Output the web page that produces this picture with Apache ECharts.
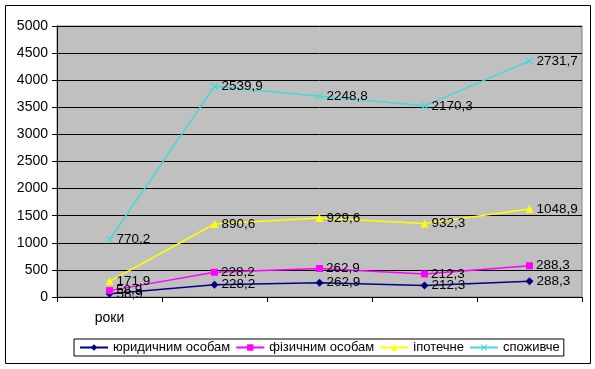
<!DOCTYPE html>
<html><head><meta charset="utf-8">
<script src="https://cdn.jsdelivr.net/npm/echarts@6/dist/echarts.min.js"></script>
<style>html,body{margin:0;padding:0;background:#fff}#c{width:595px;height:369px}</style>
</head><body><div id="c"></div>
<script>
const categories = ["роки", "", "", "", ""];
const legalEntities = [58.9, 228.2, 262.9, 212.3, 288.3];
const individuals = [58.9, 228.2, 262.9, 212.3, 288.3];
const mortgage = [171.9, 890.6, 929.6, 932.3, 1048.9];
const consumer = [770.2, 2539.9, 2248.8, 2170.3, 2731.7];
const seriesNames = ["юридичним особам", "фізичним особам", "іпотечне", "споживче"];
const yTicks = {min: 0, max: 5000, interval: 500};

const chart = echarts.init(document.getElementById('c'));
const font = 'Liberation Sans, Arial, sans-serif';
const xPath = 'path://M0,1L1,0L5,4L9,0L10,1L6,5L10,9L9,10L5,6L1,10L0,9L4,5Z';
function mk(name, data, color, symbol, size) {
  return {
    name, type: 'line', stack: 'total', data,
    symbol, symbolSize: size,
    lineStyle: {color, width: 1.5},
    itemStyle: {color},
    label: {show: true, position: 'right', distance: 3, color: '#000', fontFamily: font, fontSize: 13.5,
      formatter: p => String(p.value).replace('.', ',')},
    z: 3
  };
}
chart.setOption({
  animation: false,
  textStyle: {fontFamily: font},
  graphic: [{type: 'rect', shape: {x: 5.5, y: 5.5, width: 585, height: 358}, style: {fill: 'none', stroke: '#000', lineWidth: 1}, z: -1}],
  grid: {left: 57, right: 13, top: 26, bottom: 72, show: true, backgroundColor: '#c0c0c0', borderColor: '#808080', borderWidth: 1},
  legend: {
    bottom: 13, left: 74, itemWidth: 28, itemHeight: 8, itemGap: 5,
    borderColor: '#000', borderWidth: 1, padding: [2, 4, 2, 5],
    textStyle: {fontFamily: font, fontSize: 13, color: '#000'},
    data: seriesNames
  },
  xAxis: {
    type: 'category', data: categories, boundaryGap: true,
    axisLine: {lineStyle: {color: '#000'}},
    axisTick: {show: true, length: 5, lineStyle: {color: '#000'}},
    axisLabel: {color: '#000', fontSize: 14, fontFamily: font, margin: 14, interval: 0},
    splitLine: {show: false}
  },
  yAxis: {
    type: 'value', min: yTicks.min, max: yTicks.max, interval: yTicks.interval,
    axisLine: {show: true, lineStyle: {color: '#000'}},
    axisTick: {show: true, length: 5, lineStyle: {color: '#000'}},
    axisLabel: {color: '#000', fontSize: 14, fontFamily: font, margin: 9, formatter: v => String(v)},
    splitLine: {lineStyle: {color: '#000', width: 1}}
  },
  series: [
    mk(seriesNames[0], legalEntities, '#000080', 'diamond', 8),
    mk(seriesNames[1], individuals, '#ff00ff', 'rect', 7),
    mk(seriesNames[2], mortgage, '#ffff00', 'triangle', 8),
    mk(seriesNames[3], consumer, '#40d8d8', xPath, 8)
  ]
});
</script></body></html>
